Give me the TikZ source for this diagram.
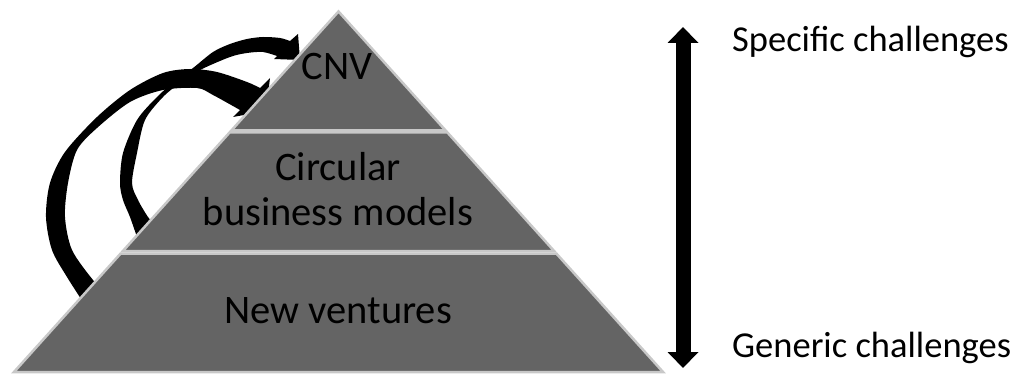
\documentclass[tikz,border=0pt]{standalone}
\usepackage{fontspec}
\setmainfont{Carlito}
\usetikzlibrary{calc,arrows.meta}
\definecolor{layerfill}{HTML}{646464}
\definecolor{layerline}{HTML}{C8C8C8}
\tikzstyle{layer} = [fill=layerfill, draw=layerline, line width=2.5pt, line join=miter]
\tikzstyle{layertext} = [font=\fontsize{40.5}{44}\selectfont, align=center, anchor=base, inner sep=0pt]
\tikzstyle{sidetext} = [font=\fontsize{36.5}{44}\selectfont, anchor=base west, inner sep=0pt]
\tikzstyle{curvearrow} = [fill=black]
\tikzstyle{scalearrow} = [line width=15pt, {Triangle[length=16pt,width=30pt]}-{Triangle[length=16pt,width=30pt]}]

\begin{document}
\begin{tikzpicture}[x=1pt,y=-1pt]
\useasboundingbox (0,0) rectangle (1016,374);
% curved arrows first, the pyramid hides their tails
\fill[curvearrow] plot[smooth] coordinates {(85,305) (67,277) (52,250) (46,217) (50,183) (65,152) (97,117) (130,90) (163,73) (190,69) (217,72) (247,82) (260,88)}
  -- (270,78) -- (266,111) -- (233,117)
  -- plot[smooth] coordinates {(240,110) (213,95) (197,88) (163,90) (130,102) (97,128) (77,150) (68,183) (65,217) (72,250) (93,280) (104,290)} -- cycle;
\fill[curvearrow] plot[smooth] coordinates {(138,240) (130,217) (123,200) (120,183) (123,153) (137,120) (157,97) (175,81) (193,68) (213,52) (230,44) (247,39) (263,37) (280,38) (290,41)}
  -- (298,34) -- (300,60) -- (274,59)
  -- plot[smooth] coordinates {(277,56) (263,52) (247,53) (230,57) (200,70) (180,83) (163,97) (145,120) (137,153) (132,183) (138,200) (148,217) (156,226)} -- cycle;
% pyramid
\coordinate (apex) at (338.5,11.5);
\coordinate (bl) at (14,372);
\coordinate (br) at (663,372);
\draw[layer] (apex) -- ($(apex)!0.330!(br)$) -- ($(apex)!0.330!(bl)$) -- cycle;
\draw[layer] ($(apex)!0.3356!(bl)$) -- ($(apex)!0.3356!(br)$) -- ($(apex)!0.6644!(br)$) -- ($(apex)!0.6644!(bl)$) -- cycle;
\draw[layer] ($(apex)!0.6713!(bl)$) -- ($(apex)!0.6713!(br)$) -- (br) -- (bl) -- cycle;
\node[layertext] (cnv) at (337,80) {CNV};
\node[layertext] (cbm) at (338,225) {Circular\\business models};
\node[layertext] (nv) at (338,323) {New ventures};
% scale on the right
\node[sidetext] (spec) at (732,52) {Specific challenges};
\node[sidetext] (gen) at (732,357) {Generic challenges};
\coordinate (hi) at (683,27);
\coordinate (lo) at (683,368);
\draw[scalearrow] (hi) -- (lo);
\end{tikzpicture}
\end{document}
